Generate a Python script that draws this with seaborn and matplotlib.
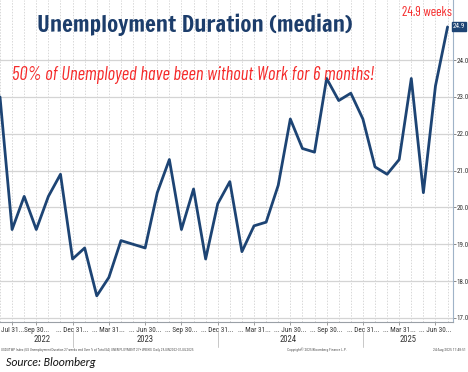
import matplotlib
matplotlib.use("Agg")
import matplotlib.pyplot as plt
import matplotlib.transforms as mtransforms
from matplotlib import font_manager as fm
from matplotlib.ticker import MultipleLocator, FixedLocator
import seaborn as sns
import pandas as pd

# ---- data ----
month_labels = ["Jun 22", "Jul 22", "Aug 22", "Sep 22", "Oct 22", "Nov 22", "Dec 22",
                "Jan 23", "Feb 23", "Mar 23", "Apr 23", "May 23", "Jun 23", "Jul 23",
                "Aug 23", "Sep 23", "Oct 23", "Nov 23", "Dec 23", "Jan 24", "Feb 24",
                "Mar 24", "Apr 24", "May 24", "Jun 24", "Jul 24", "Aug 24", "Sep 24",
                "Oct 24", "Nov 24", "Dec 24", "Jan 25", "Feb 25", "Mar 25", "Apr 25",
                "May 25", "Jun 25", "Jul 25"]
duration = [23.0, 19.4, 20.3, 19.4, 20.3, 20.9, 18.6, 18.9, 17.6, 18.1, 19.1, 19.0,
            18.9, 20.4, 21.3, 19.4, 20.5, 18.6, 20.1, 20.7, 18.8, 19.5, 19.6, 20.6,
            22.4, 21.6, 21.5, 23.5, 22.9, 23.1, 22.4, 21.1, 20.9, 21.3, 23.5, 20.4,
            23.3, 24.9]
tick_pos = [1, 3, 6, 9, 12, 15, 18, 21, 24, 27, 30, 33, 36]
tick_text = ["Jul 31...", "Sep 30...", "... Dec 31...", "... Mar 31...", "... Jun 30...",
             "... Sep 30...", "... Dec 31...", "... Mar 31...", "... Jun 30...",
             "... Sep 30...", "... Dec 31...", "... Mar 31...", "... Jun 30..."]
years = ["2022", "2023", "2024", "2025"]
year_pos = [3.5, 12.0, 23.8, 33.7]
year_sep = [6.0, 18.0, 30.0]
y_ticks = [17.0, 18.0, 19.0, 20.0, 21.0, 22.0, 23.0, 24.0]

df = pd.DataFrame({"idx": range(len(duration)), "month": month_labels, "value": duration})

# ---- font selection ----
entries = fm.fontManager.ttflist
def has(name, italic=False):
    for f in entries:
        if f.name != name:
            continue
        if italic and f.style not in ("italic", "oblique"):
            continue
        return True
    return False

def pick(cands, italic=False):
    for c in cands:
        if has(c, italic):
            return c
    return "DejaVu Sans"

TITLE_F = pick(["Francois One", "Fjalla One", "Oswald", "Roboto Condensed"])
ITAL_F = pick(["Barlow Condensed", "Roboto Condensed"], italic=True)
WEEK_F = pick(["Barlow Condensed", "Roboto Condensed"])
SMALL_F = pick(["Roboto Condensed", "PT Sans Narrow", "Barlow Condensed"])
SRC_F = pick(["Carlito", "Calibri", "Lato", "Open Sans"], italic=True)

NAVY = "#1d4474"
RED = "#f52a2a"

sns.set_theme(style="white")
plt.rcParams["font.family"] = ["DejaVu Sans"]

fig = plt.figure(figsize=(4.68, 3.72), dpi=100)
ax = fig.add_axes([0.0, 0.1344, 0.968, 0.8656])

sns.lineplot(data=df, x="idx", y="value", ax=ax, color=NAVY, linewidth=2.0)

ax.set_xlim(0, 37.45)
ax.set_ylim(16.89, 25.63)
ax.set_xlabel("")
ax.set_ylabel("")

ax.yaxis.set_major_locator(FixedLocator(y_ticks))
ax.xaxis.set_minor_locator(MultipleLocator(1))
ax.xaxis.set_major_locator(FixedLocator(tick_pos))
ax.grid(axis="y", which="major", color="#d4d4d4", linewidth=0.9, linestyle="-")
ax.grid(axis="x", which="both", color="#d8d8d8", linewidth=0.7, linestyle=(0, (1.5, 1.5)))

for s in ["top", "left"]:
    ax.spines[s].set_visible(False)
ax.spines["right"].set_color("#9fb3c8")
ax.spines["right"].set_linewidth(0.8)
ax.spines["bottom"].set_color("#9aa0a6")
ax.spines["bottom"].set_linewidth(0.8)

ax.yaxis.tick_right()
ax.set_yticklabels([f"{v:.1f}" for v in y_ticks], fontsize=5.0, color="#333333",
                   family=[SMALL_F, "DejaVu Sans"])
ax.tick_params(axis="y", which="major", right=True, length=2, width=0.6, pad=0.4,
               color="#777777")
ax.set_xticklabels(tick_text, fontsize=5.2, color="#333333", family=[SMALL_F, "DejaVu Sans"])
ax.tick_params(axis="x", which="major", bottom=True, length=2, width=0.5, pad=1.5,
               color="#777777")
ax.tick_params(axis="x", which="minor", bottom=False)

ax.text(1.0, duration[-1], f"{duration[-1]:.1f}", transform=ax.get_yaxis_transform(),
        ha="left", va="center", fontsize=5.0, color="white", family=[SMALL_F, "DejaVu Sans"],
        bbox=dict(boxstyle="square,pad=0.15", fc=NAVY, ec=NAVY), clip_on=False)

trans = mtransforms.blended_transform_factory(ax.transData, fig.transFigure)
for yp, yl in zip(year_pos, years):
    fig.text(yp, 1 - 340 / 372, yl, transform=trans, ha="center", va="center",
             fontsize=6.2, color="#333333", family=[SMALL_F, "DejaVu Sans"])
for xs in year_sep:
    ax.plot([xs, xs], [1 - 332 / 372, 1 - 347 / 372], transform=trans, color="#c8c8c8",
            linewidth=0.7, clip_on=False)

foot_left = fig.text(0.002, 1 - 350 / 372,
         "USDUTWP Index (US Unemployment Duration 27 weeks and Over % of Total SA) UNEMPLOYMENT 27+ WEEKS  Daily 29JUN2022-31JUL2025",
         fontsize=3, color="#555555", ha="left", va="center", family=[SMALL_F, "DejaVu Sans"])
foot_mid = fig.text(0.677, 1 - 350 / 372, "Copyright\u00a9 2025 Bloomberg Finance L.P.",
         fontsize=3, color="#555555", ha="center", va="center", family=[SMALL_F, "DejaVu Sans"])
foot_right = fig.text(0.996, 1 - 350 / 372, "24-Aug-2025 17:48:51", fontsize=3,
         color="#555555", ha="right", va="center", family=[SMALL_F, "DejaVu Sans"])
src = fig.text(0.012, 1 - 363 / 372, "Source: Bloomberg", fontsize=9, style="italic",
         color="#111111", ha="left", va="center", family=[SRC_F, "DejaVu Sans"])

title = fig.text(195 / 468, 1 - 25 / 372, "Unemployment Duration (median)", fontsize=25,
         color="#1c3d6b", ha="center", va="center", family=[TITLE_F, "DejaVu Sans"])
sub = fig.text(193 / 468, 1 - 75 / 372, "50% of Unemployed have been without Work for 6 months!",
         fontsize=15.5, style="italic", color=RED, ha="center", va="center",
         family=[ITAL_F, "DejaVu Sans"])
weeks = fig.text(452 / 468, 1 - 13 / 372, "24.9 weeks", fontsize=11, color=RED,
         ha="right", va="center", family=[WEEK_F, "DejaVu Sans"])

# fit text widths to the reference
renderer = fig.canvas.get_renderer()
for t, target in [(title, 315), (sub, 362), (weeks, 50), (src, 90),
                  (foot_left, 195), (foot_mid, 60), (foot_right, 32)]:
    w = t.get_window_extent(renderer).width
    if w > 0:
        t.set_fontsize(t.get_fontsize() * target / w)

fig.savefig("out.png", dpi=100, facecolor="white")
